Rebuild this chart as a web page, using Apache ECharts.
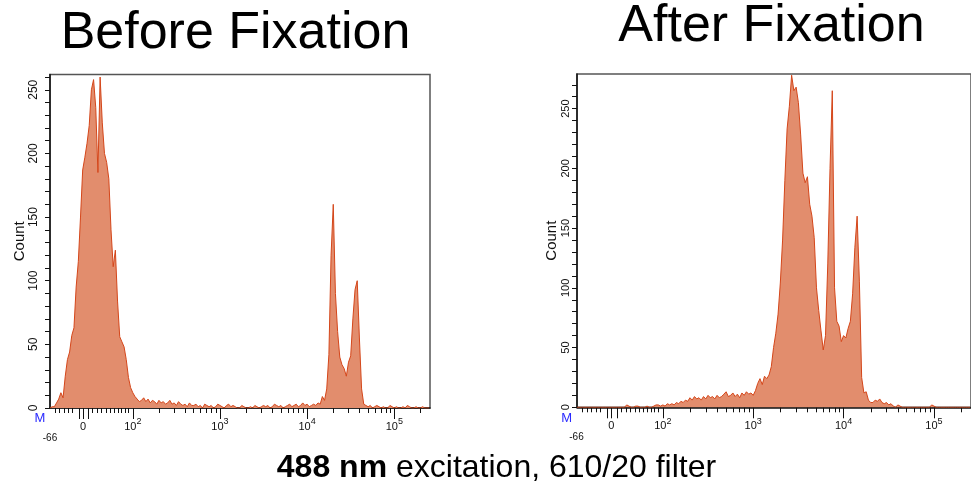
<!DOCTYPE html>
<html><head><meta charset="utf-8">
<script src="https://cdn.jsdelivr.net/npm/echarts@6/dist/echarts.min.js"></script>
<style>html,body{margin:0;padding:0;background:#fff}#c{width:971px;height:486px}</style>
</head><body><div id="c"></div>
<script>
// ---- data (x in display "decade" units: 10^2 -> 2, 10^3 -> 3 ...) ----
const binStart = 1.05;
const binWidth = 0.025;
const xMin = 1.05, xMax = 5.41;

const beforeCounts = [
  0,1,1,4,7,12,8,25,38,44,
  57,63,95,115,150,187,197,208,222,250,
  258,236,185,260,224,200,193,180,140,111,
  124,84,56,52,48,38,24,16,12,9,
  7,5,6,8,5,7,4,6,5,3,
  6,4,5,3,4,6,3,4,2,5,
  3,2,3,1,4,2,2,3,1,2,
  0,3,2,1,2,0,1,3,2,1,
  0,2,3,1,2,1,0,0,2,1,
  0,0,1,0,2,1,0,1,2,1,
  2,0,1,3,2,1,2,0,1,2,
  3,1,2,3,1,2,4,2,3,1,
  2,3,2,4,3,9,6,15,42,120,
  160,90,60,40,34,31,25,36,41,70,
  93,100,55,15,3,2,1,2,0,1,
  2,1,0,1,0,0,2,1,0,1,
  0,0,1,0,2,1,0,0,1,0,
  0,1,0,0,0
];
const afterCounts = [
  0,0,0,0,0,0,0,0,0,0,
  0,0,0,0,0,0,0,0,0,0,
  0,0,2,1,0,0,1,1,0,0,
  0,1,0,0,1,2,2,1,2,1,
  3,2,3,2,4,3,5,4,6,5,
  8,6,9,7,8,6,9,7,10,8,
  9,7,10,8,9,11,13,9,10,12,
  9,11,8,12,10,13,11,12,10,14,
  20,24,19,26,24,27,34,50,62,78,
  104,140,190,233,252,278,265,268,255,228,
  196,188,193,170,160,142,100,81,64,48,
  60,120,200,265,100,72,68,55,60,58,
  66,72,95,134,160,105,25,12,13,6,
  4,4,6,5,7,4,3,4,2,3,
  1,0,2,1,0,0,0,0,0,0,
  0,0,0,0,0,0,0,2,1,0,
  0,0,0,0,0,0,0,0,0,0,
  0,0,0,0,0
];

const yLabelValues = [0,50,100,150,200,250];
const yMaxBefore = 262, yMaxAfter = 279;
const xLabelValues = [1.43, 2, 3, 4, 5];
const xLabelTexts = ['0', '2', '3', '4', '5']; // '2' -> 10^2 etc.
const xMinLabel = '-66';
const xMajorTicks = [1.38, 1.43, 1.49, 2, 3, 4, 5];
const xLinearMinorTicks = [1.11,1.16,1.21,1.26,1.31,1.54,1.59,1.64,1.69,1.74,1.785,1.83,1.87,1.91,1.945];
const logMultipliers = [2,3,4,5,6,7,8,9];
const logDecades = [2,3,4,5];

// ---- derived ----
const FONT = 'Liberation Sans';
function toSeries(counts){ return counts.map((v,i)=>[binStart + i*binWidth, v]); }
const xMinorTicks = xLinearMinorTicks.slice();
logDecades.forEach(k => logMultipliers.forEach(m => { const v = k + Math.log10(m); if (v < xMax) xMinorTicks.push(v); }));
function yTicks(max){ const a=[]; for(let v=0; v<=max; v+=10) a.push(v); return a; }

function xLabelFmt(v){
  let idx = 0, best = 1e9;
  xLabelValues.forEach((x,i)=>{ const d=Math.abs(x-v); if(d<best){best=d; idx=i;} });
  if (idx === 0) return '{b|' + xLabelTexts[0] + '}';
  return '{b|10}{s|' + xLabelTexts[idx] + '}';
}
const xRich = {
  b: {fontSize: 11, lineHeight: 15, verticalAlign: 'bottom', fontFamily: FONT, color: '#111'},
  s: {fontSize: 9, lineHeight: 9, verticalAlign: 'top', fontFamily: FONT, color: '#111'}
};

function xAxesFor(grid){
  return [
    { type:'value', gridIndex:grid, position:'bottom', min:xMin, max:xMax,
      axisLine:{show:true, lineStyle:{color:'#111', width:1.5}},
      axisTick:{show:true, customValues:xMinorTicks, length:5, lineStyle:{color:'#111', width:1}},
      axisLabel:{show:false}, splitLine:{show:false} },
    { type:'value', gridIndex:grid, position:'bottom', min:xMin, max:xMax,
      axisLine:{show:false},
      axisTick:{show:true, customValues:xMajorTicks, length:11, lineStyle:{color:'#111', width:1}},
      axisLabel:{show:true, customValues:xLabelValues, margin:9.5, formatter:xLabelFmt, rich:xRich},
      splitLine:{show:false} }
  ];
}
function yAxisFor(grid, max, labelMargin, nameGap, labelSize){
  return { type:'value', gridIndex:grid, min:0, max:max, position:'left',
    name:'Count', nameLocation:'middle', nameGap:nameGap,
    nameTextStyle:{fontFamily:FONT, fontSize:15, color:'#111'},
    axisLine:{show:true, lineStyle:{color:'#111', width:1.5}},
    axisTick:{show:true, customValues:yTicks(max), length:5, lineStyle:{color:'#111', width:1}},
    axisLabel:{show:true, customValues:yLabelValues, rotate:90, margin:labelMargin,
      fontFamily:FONT, fontSize:labelSize, color:'#111'},
    splitLine:{show:false} };
}
function histSeries(xi, yi, counts){
  return { type:'line', xAxisIndex:xi, yAxisIndex:yi, data:toSeries(counts),
    showSymbol:false, symbol:'none', silent:true, animation:false,
    lineStyle:{color:'#d4461a', width:1},
    areaStyle:{color:'#e28d6d', opacity:1} };
}

const chart = echarts.init(document.getElementById('c'), null, {renderer:'canvas'});
chart.setOption({
  animation:false,
  backgroundColor:'#fff',
  grid:[
    {left:50, top:74.5, width:380, height:333.5, show:true, borderColor:'#555', borderWidth:1.5, backgroundColor:'transparent'},
    {left:577, top:74, width:405, height:333.3, show:true, borderColor:'#555', borderWidth:1.5, backgroundColor:'transparent'}
  ],
  xAxis: xAxesFor(0).concat(xAxesFor(1)),
  yAxis: [ yAxisFor(0, yMaxBefore, 10, 21.5, 12), yAxisFor(1, yMaxAfter, 6, 18, 11) ],
  series: [ histSeries(0, 0, beforeCounts), histSeries(2, 1, afterCounts) ],
  graphic: [
    {type:'text', x:235.5, y:34, style:{text:'Before Fixation', font:'52px "Liberation Sans"', fill:'#000', align:'center', verticalAlign:'middle'}},
    {type:'text', x:771.5, y:27, style:{text:'After Fixation', font:'52px "Liberation Sans"', fill:'#000', align:'center', verticalAlign:'middle'}},
    {type:'text', x:496.5, y:468, style:{text:'{b|488 nm} excitation, 610/20 filter', font:'32px "Liberation Sans"', fill:'#000', align:'center', verticalAlign:'middle',
      rich:{b:{fontWeight:'bold', fontSize:32, fontFamily:FONT, fill:'#000'}}}},
    {type:'text', x:40, y:418, style:{text:'M', font:'13px "Liberation Sans"', fill:'#2a2aff', align:'center', verticalAlign:'middle'}},
    {type:'text', x:566.7, y:418, style:{text:'M', font:'13px "Liberation Sans"', fill:'#2a2aff', align:'center', verticalAlign:'middle'}},
    {type:'text', x:50, y:438, style:{text:xMinLabel, font:'10px "Liberation Sans"', fill:'#111', align:'center', verticalAlign:'middle'}},
    {type:'text', x:576.5, y:437, style:{text:xMinLabel, font:'10px "Liberation Sans"', fill:'#111', align:'center', verticalAlign:'middle'}}
  ]
});
</script>
</body></html>
